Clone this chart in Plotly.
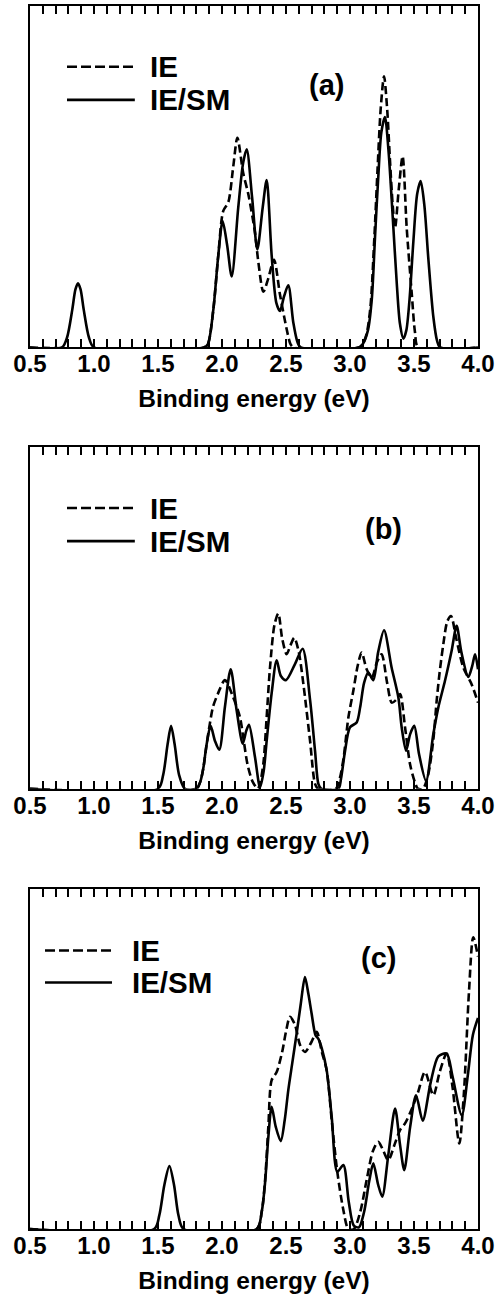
import plotly.graph_objects as go

# ---------------- data ----------------
# Panel (a)
A_SM_X = [0.5, 0.75, 0.79, 0.83, 0.855, 0.875, 0.895, 0.92, 0.96, 1.0, 1.86, 1.89, 1.932, 1.971, 2.005, 2.04, 2.076,
          2.127, 2.165, 2.193, 2.235, 2.276, 2.318, 2.349, 2.388, 2.425, 2.453, 2.485, 2.518, 2.557, 2.59, 2.615,
          3.07, 3.10, 3.14, 3.17, 3.195, 3.221, 3.245, 3.273, 3.30, 3.338, 3.365, 3.39, 3.417, 3.44, 3.465, 3.495,
          3.525, 3.552, 3.58, 3.612, 3.651, 3.68, 3.705, 4.0]
A_SM_Y = [0, 0, 3, 11, 17, 18.8, 17, 11, 3, 0, 0, 1, 11, 27, 37, 30, 20.8,
          41, 54, 58, 44, 28.7, 41, 49, 27, 13, 10.7, 15, 18.2, 7.3, 1.5, 0,
          0, 1, 5, 14, 32, 50, 63, 67.5, 58, 35.6, 19, 7, 2.6, 5, 14, 31,
          45, 48.7, 42, 26, 9, 2, 0, 0]
A_IE_X = [0.5, 1.86, 1.89, 1.932, 1.971, 2.01, 2.049, 2.088, 2.12, 2.166, 2.205, 2.258, 2.284, 2.323, 2.36, 2.406,
          2.453, 2.505, 2.535, 2.56, 3.07, 3.10, 3.13, 3.16, 3.19, 3.215, 3.24, 3.266, 3.29, 3.312, 3.333, 3.352,
          3.38, 3.411, 3.443, 3.482, 3.508, 3.534, 4.0]
A_IE_Y = [0, 0, 1, 11, 27, 40, 42.5, 53, 61.4, 51, 45, 33.6, 25, 16.3, 20, 25.7,
          15.5, 5.4, 1, 0, 0, 1, 4, 12, 32, 52, 70, 79.4, 70, 55, 42, 35,
          46, 56, 35, 16, 4.4, 0, 0]

# Panel (b)
B_SM_X = [0.5, 1.50, 1.54, 1.575, 1.602, 1.63, 1.665, 1.71, 1.80, 1.83, 1.854, 1.88, 1.911, 1.945, 1.979, 2.023,
          2.068, 2.115, 2.162, 2.19, 2.211, 2.258, 2.297, 2.325, 2.349, 2.388, 2.427, 2.46, 2.50, 2.57, 2.63,
          2.688, 2.727, 2.753, 2.775, 2.91, 2.93, 2.961, 3.0, 3.052, 3.08, 3.11, 3.143, 3.182, 3.22, 3.266, 3.325,
          3.378, 3.404, 3.438, 3.47, 3.502, 3.54, 3.594, 3.651, 3.69, 3.742, 3.794, 3.833, 3.87, 3.924, 3.955,
          3.977, 4.0]
B_SM_Y = [0, 0, 4, 13, 18.4, 13, 4, 0, 0, 2, 6, 13, 18.4, 14, 11.4, 24,
          35, 22.8, 13.2, 17, 18.7, 9.2, 0.4, 5, 14, 28, 37.6, 33, 31.8, 36.5, 41,
          26, 11, 1.4, 0, 0, 3, 11, 18, 19.4, 24, 31, 34, 31.8, 40, 46.4, 35.5,
          26.7, 17.9, 11.1, 16, 18.4, 10, 2.3, 16, 23.8, 31.6, 40.4, 47.7, 40, 32.7, 36,
          39.4, 35]
B_IE_X = [0.5, 1.80, 1.83, 1.854, 1.88, 1.905, 1.93, 1.97, 2.023, 2.088, 2.14, 2.17, 2.20, 2.24, 2.28, 2.30,
          2.325, 2.349, 2.375, 2.41, 2.44, 2.47, 2.505, 2.535, 2.565, 2.60, 2.636, 2.688, 2.727, 2.75,
          2.89, 2.92, 2.95, 2.987, 3.026, 3.06, 3.091, 3.13, 3.17, 3.21, 3.247, 3.29, 3.326, 3.36, 3.391, 3.43,
          3.47, 3.508, 3.53, 3.57, 3.61, 3.65, 3.677, 3.70, 3.729, 3.76, 3.789, 3.83, 3.885, 3.95, 4.0]
B_IE_Y = [0, 0, 2, 6, 13, 19, 24, 28, 31.8, 26.7, 21, 14, 7, 2, 0, 2,
          8, 21, 35.5, 48, 51.3, 44, 39.4, 42, 44.2, 40, 30.6, 14, 1.4, 0,
          0, 3, 9, 20.8, 28.7, 36, 39.9, 35, 32.5, 37, 39.4, 31, 25.2, 26, 27.7, 18,
          7, 1.8, 0, 0, 4, 14, 25.7, 34, 42.3, 49, 50.6, 44, 35.5, 30.6, 25.2]

# Panel (c)
C_SM_X = [0.5, 1.47, 1.51, 1.55, 1.589, 1.625, 1.66, 1.70, 2.27, 2.31, 2.336, 2.362, 2.388, 2.42, 2.459, 2.49,
          2.518, 2.55, 2.583, 2.615, 2.648, 2.675, 2.70, 2.73, 2.752, 2.78, 2.818, 2.857, 2.901, 2.948, 2.99,
          3.03, 3.07, 3.11, 3.15, 3.182, 3.22, 3.252, 3.30, 3.352, 3.39, 3.424, 3.47, 3.516, 3.568, 3.63, 3.69,
          3.755, 3.80, 3.873, 3.92, 3.96, 4.0]
C_SM_Y = [0, 0, 4, 13, 18.5, 13, 4, 0, 0, 5, 13.4, 27, 35.9, 30, 25.8, 32,
          40.8, 49, 57.4, 66, 74, 69, 63.3, 57, 55.9, 53, 46.6, 32.9, 16.8, 18.8, 8,
          1, 0.5, 5, 14, 19.3, 13, 9.5, 22, 35.4, 25, 17.3, 30, 39.3, 31.8, 43, 50.7,
          51.5, 45, 33.4, 45, 57, 62]
C_IE_X = [0.5, 2.27, 2.31, 2.336, 2.362, 2.388, 2.427, 2.47, 2.50, 2.531, 2.57, 2.61, 2.648, 2.70, 2.74, 2.78,
          2.818, 2.857, 2.90, 2.948, 2.987, 3.03, 3.08, 3.13, 3.18, 3.221, 3.26, 3.299, 3.35, 3.39, 3.43, 3.48,
          3.53, 3.586, 3.651, 3.70, 3.755, 3.80, 3.854, 3.89, 3.93, 3.963, 4.0]
C_IE_Y = [0, 0, 5, 14, 30, 43.7, 46.1, 52, 58, 62.3, 60, 54, 52, 55, 57.9, 52,
          46.6, 32, 17, 5.6, 0, 0, 5, 14.4, 23, 25.6, 23, 20.2, 25, 29, 31, 35,
          40, 46.1, 39.3, 46, 51.5, 42, 25.1, 40, 70, 85.7, 80]

# Axis ticks / labels
TICK_POS = [0.5, 0.6, 0.7, 0.8, 0.9, 1.0, 1.1, 1.2, 1.3, 1.4, 1.5, 1.6, 1.7, 1.8, 1.9, 2.0, 2.1, 2.2,
            2.3, 2.4, 2.5, 2.6, 2.7, 2.8, 2.9, 3.0, 3.1, 3.2, 3.3, 3.4, 3.5, 3.6, 3.7, 3.8, 3.9, 4.0]
LABEL_POS = [0.5, 1.0, 1.5, 2.0, 2.5, 3.0, 3.5, 4.0]
LABEL_TEXT = ["0.5", "1.0", "1.5", "2.0", "2.5", "3.0", "3.5", "4.0"]
X_TITLE = "Binding energy (eV)"
SERIES_NAMES = ["IE", "IE/SM"]
PANEL_LABELS = ["(a)", "(b)", "(c)"]

# ---------------- figure ----------------
FONT = "Liberation Sans"
LW = 2.6
label_map = dict(zip(LABEL_POS, LABEL_TEXT))
tick_text = [label_map.get(v, "") for v in TICK_POS]

panels = [
    (A_IE_X, A_IE_Y, A_SM_X, A_SM_Y),
    (B_IE_X, B_IE_Y, B_SM_X, B_SM_Y),
    (C_IE_X, C_IE_Y, C_SM_X, C_SM_Y),
]
domains = [[0.7208, 1.0], [0.36, 0.6392], [0.0, 0.2784]]

fig = go.Figure()
for i, (iex, iey, smx, smy) in enumerate(panels):
    sfx = "" if i == 0 else str(i + 1)
    fig.add_trace(go.Scatter(x=iex, y=iey, mode="lines", name=SERIES_NAMES[0],
                             line=dict(color="black", width=LW, dash="8px,4px", shape="spline", smoothing=0.8),
                             xaxis="x" + sfx, yaxis="y" + sfx, showlegend=False))
    fig.add_trace(go.Scatter(x=smx, y=smy, mode="lines", name=SERIES_NAMES[1],
                             line=dict(color="black", width=LW, shape="spline", smoothing=0.8),
                             xaxis="x" + sfx, yaxis="y" + sfx, showlegend=False))

layout = dict(
    width=502, height=1298,
    margin=dict(l=30, r=24, t=4, b=69),
    paper_bgcolor="white", plot_bgcolor="white",
    font=dict(family=FONT, color="black", weight="bold"),
    showlegend=False,
)
shapes = []
annotations = []
legend_cfg = [
    dict(x0=0.0826, x1=0.234, tx=0.263, y1=0.822, y2=0.725, lx=0.661, ly=0.769),
    dict(x0=0.0826, x1=0.234, tx=0.263, y1=0.822, y2=0.725, lx=0.788, ly=0.760),
    dict(x0=0.0335, x1=0.183, tx=0.223, y1=0.818, y2=0.724, lx=0.777, ly=0.795),
]
for i in range(3):
    sfx = "" if i == 0 else str(i + 1)
    layout["xaxis" + sfx] = dict(
        domain=[0, 1], anchor="y" + sfx, range=[0.5, 4.0],
        tickmode="array", tickvals=TICK_POS, ticktext=tick_text,
        ticks="inside", ticklen=8, tickwidth=1.8, tickcolor="black",
        showline=True, linecolor="black", linewidth=2, mirror="ticks",
        showgrid=False, zeroline=False, ticklabelstandoff=-6,
        tickfont=dict(family=FONT, size=24, color="black", weight="bold"),
        title=dict(text=X_TITLE, standoff=14,
                   font=dict(family=FONT, size=24.5, color="black", weight="bold")),
    )
    layout["yaxis" + sfx] = dict(
        domain=domains[i], anchor="x" + sfx, range=[0, 100],
        showticklabels=False, ticks="", showline=True, linecolor="black",
        linewidth=2, mirror=True, showgrid=False, zeroline=False,
    )
    c = legend_cfg[i]
    xr = "x" + sfx + " domain"
    yr = "y" + sfx + " domain"
    shapes.append(dict(type="line", xref=xr, yref=yr, x0=c["x0"], x1=c["x1"], y0=c["y1"], y1=c["y1"],
                       line=dict(color="black", width=LW, dash="10px,4px")))
    shapes.append(dict(type="line", xref=xr, yref=yr, x0=c["x0"], x1=c["x1"], y0=c["y2"], y1=c["y2"],
                       line=dict(color="black", width=LW)))
    annotations.append(dict(xref=xr, yref=yr, x=c["tx"], y=c["y1"], text=SERIES_NAMES[0], showarrow=False,
                            xanchor="left", yanchor="middle",
                            font=dict(family=FONT, size=29.5, color="black", weight="bold")))
    annotations.append(dict(xref=xr, yref=yr, x=c["tx"], y=c["y2"], text=SERIES_NAMES[1], showarrow=False,
                            xanchor="left", yanchor="middle",
                            font=dict(family=FONT, size=29.5, color="black", weight="bold")))
    annotations.append(dict(xref=xr, yref=yr, x=c["lx"], y=c["ly"], text=PANEL_LABELS[i], showarrow=False,
                            xanchor="center", yanchor="middle",
                            font=dict(family=FONT, size=29, color="black", weight="bold")))
layout["shapes"] = shapes
layout["annotations"] = annotations
fig.update_layout(**layout)
fig.write_html("out.html", config={"displayModeBar": False})

# remove the browser's default page margin so the figure sits at (0, 0)
with open("out.html", "r", encoding="utf-8") as f:
    html = f.read()
html = html.replace("<head>", "<head><style>html,body{margin:0;padding:0;overflow:hidden;}</style>", 1)
with open("out.html", "w", encoding="utf-8") as f:
    f.write(html)
